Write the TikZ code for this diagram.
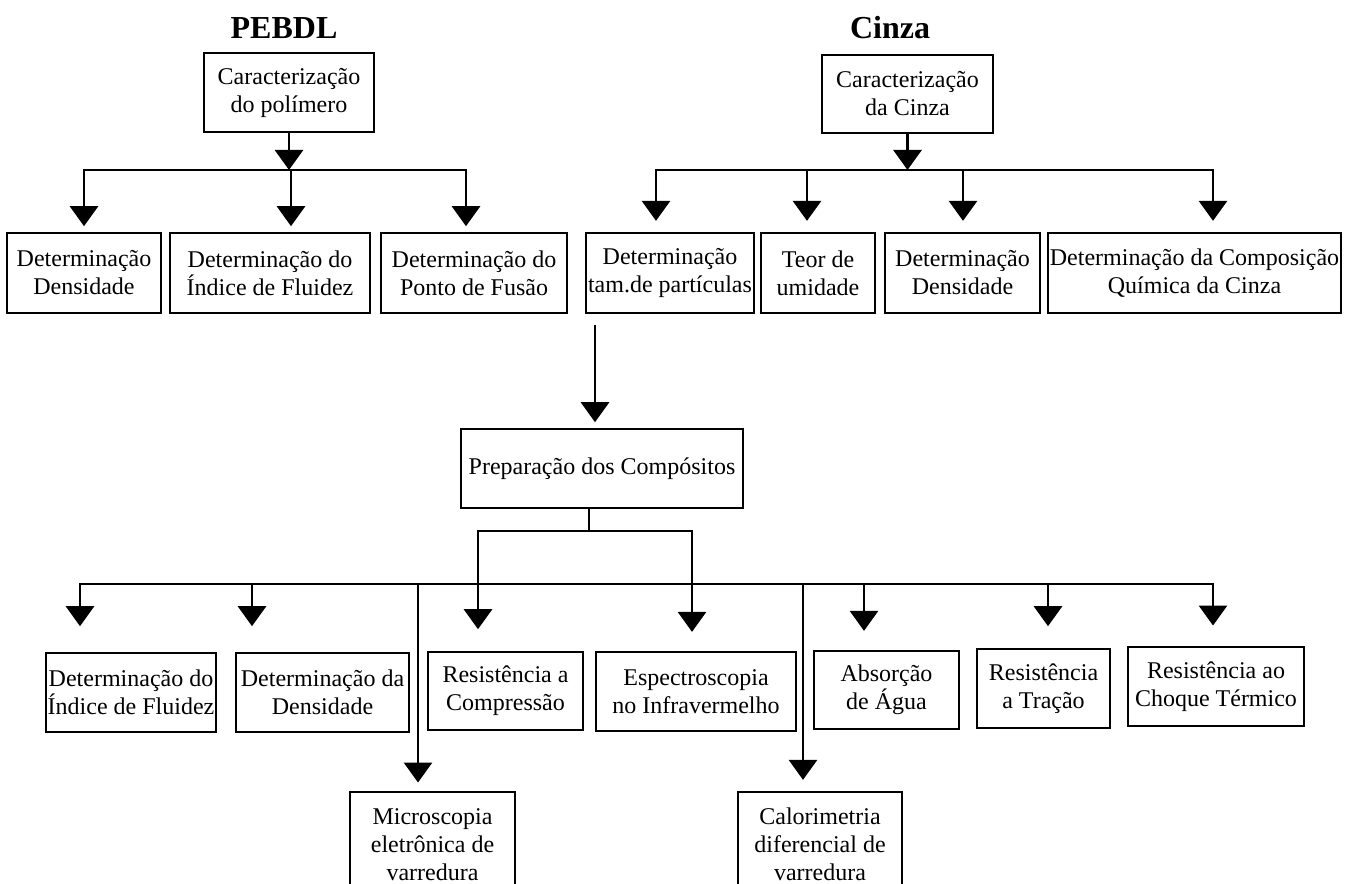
\documentclass[tikz,border=0pt]{standalone}
\usepackage{fontspec}
\setmainfont{Liberation Serif}
\usetikzlibrary{arrows.meta}

\begin{document}
\begin{tikzpicture}[
    x=0.75pt, y=-0.75pt,
    box/.style={rectangle, draw, line width=2.2pt, align=center, inner sep=1pt, font=\fontsize{18}{21}\selectfont},
    title/.style={font=\fontsize{24}{28}\selectfont\bfseries},
    line/.style={line width=2.2pt, line cap=rect},
    arrow/.style={->, >={Triangle[width=21pt,length=15pt]}, line width=2.2pt}
]
    \useasboundingbox (0,0) rectangle (1355,884);
    \fill[white] (0,0) rectangle (1355,884);

    \node[title] (pebdl) at (284,28) {PEBDL};
    \node[title] (tcinza) at (890,28) {Cinza};

    \node[box, minimum width=127.5pt, minimum height=59.25pt] (pol) at (289,92.5) {Caracterização\\do polímero};
    \node[box, minimum width=128.25pt, minimum height=58.5pt] (cinza) at (907.5,94) {Caracterização\\da Cinza};

    \node[box, minimum width=115.5pt, minimum height=60pt] (dens) at (84,273) {Determinação\\Densidade};
    \node[box, minimum width=150pt, minimum height=60pt] (indice) at (270,273) {Determinação do\\Índice de Fluidez};
    \node[box, minimum width=139.5pt, minimum height=60pt] (fusao) at (474,273) {Determinação do\\Ponto de Fusão};
    \node[box, minimum width=126pt, minimum height=60pt] (tam) at (670,273) {Determinação\\tam.de partículas};
    \node[box, minimum width=85.5pt, minimum height=60pt] (umid) at (818,273) {Teor de\\umidade};
    \node[box, minimum width=116.25pt, minimum height=60pt] (densc) at (962.5,273) {Determinação\\Densidade};
    \node[box, minimum width=219.75pt, minimum height=60pt] (quim) at (1194.5,273) {Determinação da Composição\\Química da Cinza};

    \node[box, minimum width=211.5pt, minimum height=59.25pt] (prep) at (602,468.5) {Preparação dos Compósitos};

    \node[box, minimum width=127.5pt, minimum height=59.25pt] (ifl) at (131,692.5) {Determinação do\\Índice de Fluidez};
    \node[box, minimum width=129.75pt, minimum height=59.25pt] (dden) at (322.5,692.5) {Determinação da\\Densidade};
    \node[box, minimum width=116.25pt, minimum height=58.5pt] (comp) at (505.5,691) {Resistência a\\Compressão};
    \node[box, minimum width=150pt, minimum height=59.25pt] (infra) at (696,691.5) {Espectroscopia\\no Infravermelho};
    \node[box, minimum width=108.75pt, minimum height=58.5pt] (agua) at (886.5,690) {Absorção\\de Água};
    \node[box, minimum width=99.75pt, minimum height=59.25pt] (tracao) at (1043.5,688.5) {Resistência\\a Tração};
    \node[box, minimum width=132pt, minimum height=59.25pt] (choque) at (1216,686.5) {Resistência ao\\Choque Térmico};
    \node[box, minimum width=123.75pt, minimum height=78.75pt] (mev) at (432.5,844.5) {Microscopia\\eletrônica de\\varredura};
    \node[box, minimum width=123pt, minimum height=78.75pt] (dsc) at (820,844.5) {Calorimetria\\diferencial de\\varredura};

    \coordinate (a1) at (84,170);
    \coordinate (a2) at (291,170);
    \coordinate (a3) at (466,170);
    \coordinate (b1) at (656,170);
    \coordinate (b2) at (807,170);
    \coordinate (b3) at (963,170);
    \coordinate (b4) at (1213,170);
    \coordinate (s1) at (595,325);
    \coordinate (c0) at (589,531);
    \coordinate (c1) at (478,531);
    \coordinate (c2) at (692,531);
    \coordinate (d1) at (80,584);
    \coordinate (d2) at (252,584);
    \coordinate (d3) at (418,584);
    \coordinate (d4) at (803,584);
    \coordinate (d5) at (864,584);
    \coordinate (d6) at (1048,584);
    \coordinate (d7) at (1213,584);

    \draw[arrow] (pol) -- (pol |- a2);
    \draw[line] (a1) -- (a3);
    \draw[arrow, shorten >=4pt] (a1) -- (a1 |- dens.north);
    \draw[arrow, shorten >=4pt] (a2) -- (a2 |- indice.north);
    \draw[arrow, shorten >=4pt] (a3) -- (a3 |- fusao.north);

    \draw[arrow] (cinza) -- (cinza |- b1);
    \draw[line] (b1) -- (b4);
    \draw[arrow, shorten >=8pt] (b1) -- (b1 |- tam.north);
    \draw[arrow, shorten >=8pt] (b2) -- (b2 |- umid.north);
    \draw[arrow, shorten >=8pt] (b3) -- (b3 |- densc.north);
    \draw[arrow, shorten >=8pt] (b4) -- (b4 |- quim.north);

    \draw[arrow, shorten >=4pt] (s1) -- (s1 |- prep.north);

    \draw[line] (prep.south -| c0) -- (c0);
    \draw[line] (c1) -- (c2);
    \draw[arrow, shorten >=16pt] (c1) -- (c1 |- comp.north);
    \draw[arrow, shorten >=14pt] (c2) -- (c2 |- infra.north);

    \draw[line] (d1) -- (d7);
    \draw[arrow, shorten >=19pt] (d1) -- (d1 |- ifl.north);
    \draw[arrow, shorten >=19pt] (d2) -- (d2 |- dden.north);
    \draw[arrow, shorten >=6pt] (d3) -- (d3 |- mev.north);
    \draw[arrow, shorten >=8pt] (d4) -- (d4 |- dsc.north);
    \draw[arrow, shorten >=14pt] (d5) -- (d5 |- agua.north);
    \draw[arrow, shorten >=16pt] (d6) -- (d6 |- tracao.north);
    \draw[arrow, shorten >=15pt] (d7) -- (d7 |- choque.north);
\end{tikzpicture}
\end{document}
